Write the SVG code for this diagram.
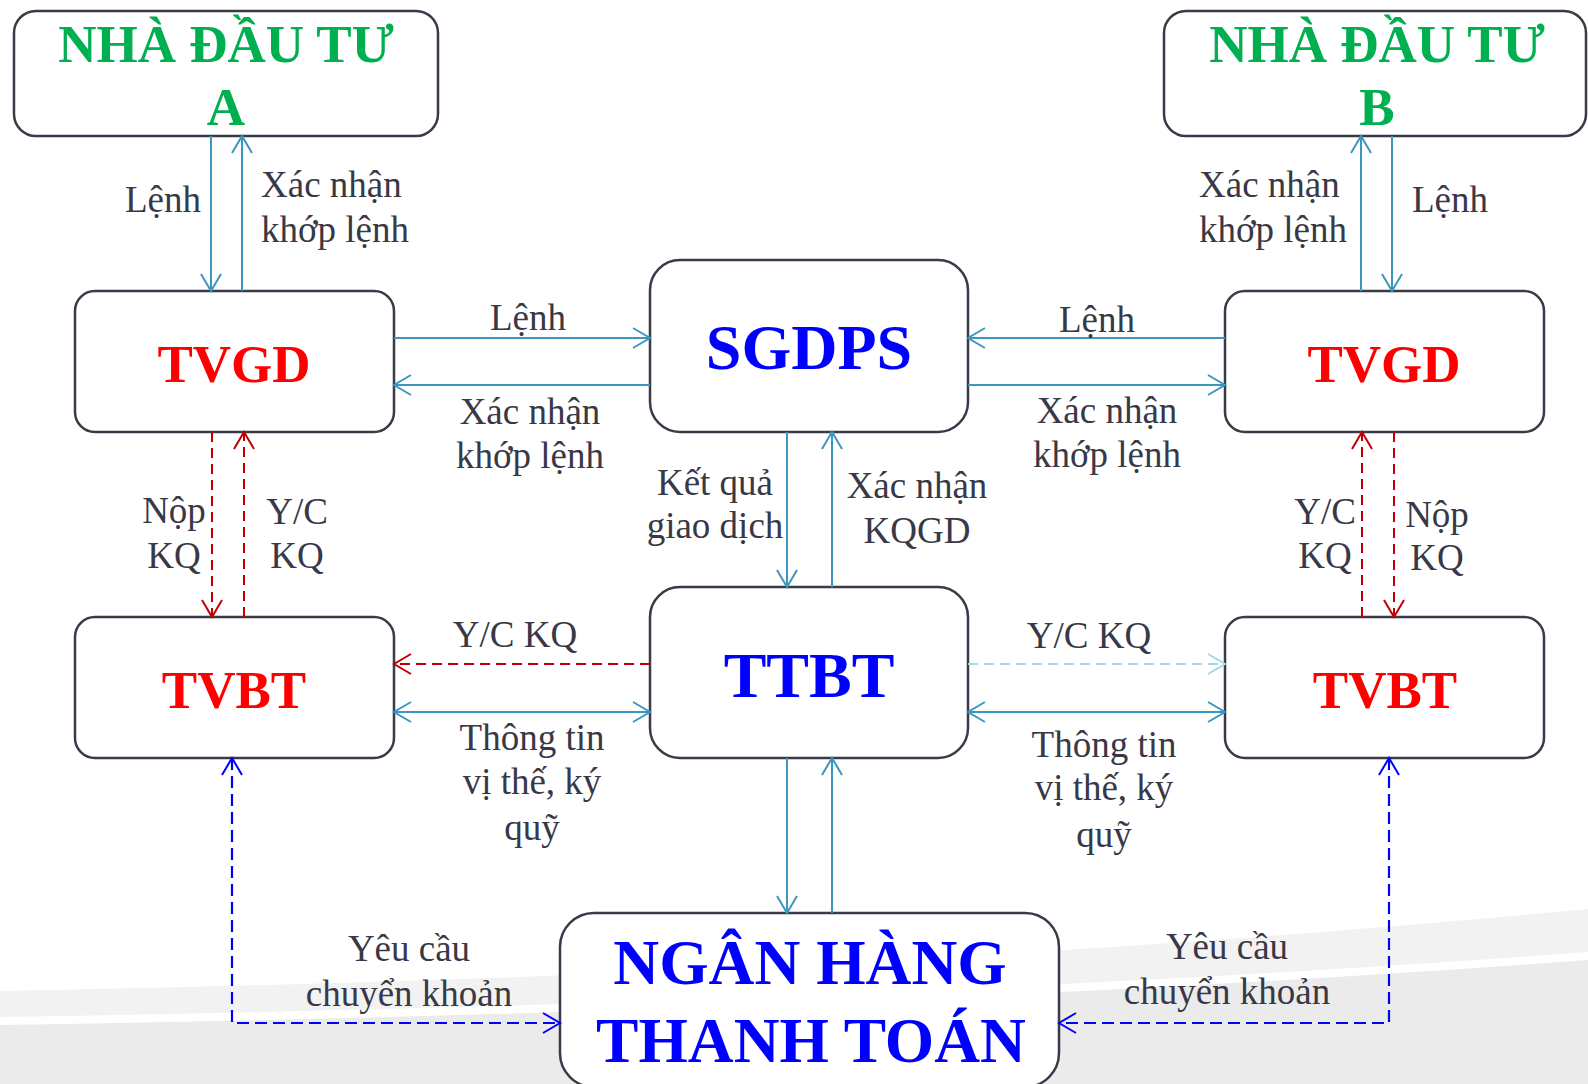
<svg xmlns="http://www.w3.org/2000/svg" width="1588" height="1084" viewBox="0 0 1588 1084">
<style>
.box{fill:#fff;stroke:#3A3A48;stroke-width:2.5}
.lbl{font-family:"Liberation Serif","Times New Roman",serif;font-size:37px;fill:#383846;text-anchor:middle}
.st{text-anchor:start}
.ttl{font-family:"Liberation Serif","Times New Roman",serif;font-weight:bold;text-anchor:middle}
.g{fill:#00B050;font-size:53px}
.r{fill:#FF0000;font-size:53px}
.b{fill:#0000FF;font-size:64px}
.t{fill:none;stroke:#3C97BF;stroke-width:2}
.rd{fill:none;stroke:#C00000;stroke-width:2;stroke-dasharray:10 6}
.lb{fill:none;stroke:#A3D9E2;stroke-width:2;stroke-dasharray:10 6}
.bd{fill:none;stroke:#0000FF;stroke-width:2.2;stroke-dasharray:12 6}
</style>
<defs>
<marker id="mT" markerUnits="userSpaceOnUse" markerWidth="22" markerHeight="24" viewBox="0 -12 22 24" refX="19" refY="0" orient="auto-start-reverse"><path d="M2,-10 L19,0 L2,10" fill="none" stroke="#3C97BF" stroke-width="2"/></marker>
<marker id="mR" markerUnits="userSpaceOnUse" markerWidth="22" markerHeight="24" viewBox="0 -12 22 24" refX="19" refY="0" orient="auto-start-reverse"><path d="M2,-10 L19,0 L2,10" fill="none" stroke="#C00000" stroke-width="2"/></marker>
<marker id="mL" markerUnits="userSpaceOnUse" markerWidth="22" markerHeight="24" viewBox="0 -12 22 24" refX="19" refY="0" orient="auto-start-reverse"><path d="M2,-10 L19,0 L2,10" fill="none" stroke="#A3D9E2" stroke-width="2"/></marker>
<marker id="mB" markerUnits="userSpaceOnUse" markerWidth="22" markerHeight="24" viewBox="0 -12 22 24" refX="19" refY="0" orient="auto-start-reverse"><path d="M2,-10 L19,0 L2,10" fill="none" stroke="#0000FF" stroke-width="2"/></marker>
</defs>
<rect width="1588" height="1084" fill="#fff"/>
<g id="background">
<path d="M0,991 Q900,975 1588,909 L1588,1084 L0,1084 Z" fill="#F2F2F2"/>
<path d="M0,1017 Q900,1003 1588,952 L1588,1084 L0,1084 Z" fill="#fff"/>
<path d="M0,1025 Q900,1011 1588,960 L1588,1084 L0,1084 Z" fill="#EBEBEB"/>
</g>
<g id="nha-dau-tu-a"><rect class="box" x="14" y="11" width="424" height="125" rx="22"/><text class="ttl g" x="226" y="62">NHÀ ĐẦU TƯ</text><text class="ttl g" x="226" y="125">A</text></g>
<g id="nha-dau-tu-b"><rect class="box" x="1164" y="11" width="422" height="125" rx="22"/><text class="ttl g" x="1377" y="62">NHÀ ĐẦU TƯ</text><text class="ttl g" x="1377" y="125">B</text></g>
<g id="tvgd-a"><rect class="box" x="75" y="291" width="319" height="141" rx="20"/><text class="ttl r" x="234" y="382">TVGD</text></g>
<g id="tvgd-b"><rect class="box" x="1225" y="291" width="319" height="141" rx="20"/><text class="ttl r" x="1384" y="382">TVGD</text></g>
<g id="sgdps"><rect class="box" x="650" y="260" width="318" height="172" rx="30"/><text class="ttl b" x="809" y="369">SGDPS</text></g>
<g id="ttbt"><rect class="box" x="650" y="587" width="318" height="171" rx="30"/><text class="ttl b" x="809" y="697">TTBT</text></g>
<g id="tvbt-a"><rect class="box" x="75" y="617" width="319" height="141" rx="20"/><text class="ttl r" x="234" y="708">TVBT</text></g>
<g id="tvbt-b"><rect class="box" x="1225" y="617" width="319" height="141" rx="20"/><text class="ttl r" x="1385" y="708">TVBT</text></g>
<g id="ngan-hang"><rect class="box" x="560" y="913" width="499" height="174" rx="34"/><text class="ttl b" x="810" y="984" style="font-size:63.5px">NGÂN HÀNG</text><text class="ttl b" x="811" y="1062" style="font-size:63.5px">THANH TOÁN</text></g>
<g id="connectors">
<line class="t" x1="211" y1="136" x2="211" y2="291" marker-end="url(#mT)"/>
<line class="t" x1="242" y1="291" x2="242" y2="136" marker-end="url(#mT)"/>
<line class="t" x1="1361" y1="291" x2="1361" y2="136" marker-end="url(#mT)"/>
<line class="t" x1="1392" y1="136" x2="1392" y2="291" marker-end="url(#mT)"/>
<line class="t" x1="394" y1="338" x2="650" y2="338" marker-end="url(#mT)"/>
<line class="t" x1="650" y1="385" x2="394" y2="385" marker-end="url(#mT)"/>
<line class="t" x1="1225" y1="338" x2="968" y2="338" marker-end="url(#mT)"/>
<line class="t" x1="968" y1="385" x2="1225" y2="385" marker-end="url(#mT)"/>
<line class="t" x1="787" y1="432" x2="787" y2="587" marker-end="url(#mT)"/>
<line class="t" x1="832" y1="587" x2="832" y2="432" marker-end="url(#mT)"/>
<line class="rd" x1="212" y1="432" x2="212" y2="617" marker-end="url(#mR)"/>
<line class="rd" x1="244" y1="617" x2="244" y2="432" marker-end="url(#mR)"/>
<line class="rd" x1="1362" y1="617" x2="1362" y2="432" marker-end="url(#mR)"/>
<line class="rd" x1="1394" y1="432" x2="1394" y2="617" marker-end="url(#mR)"/>
<line class="rd" x1="650" y1="664" x2="394" y2="664" marker-end="url(#mR)"/>
<line class="lb" x1="968" y1="664" x2="1225" y2="664" marker-end="url(#mL)"/>
<line class="t" x1="394" y1="712" x2="650" y2="712" marker-start="url(#mT)" marker-end="url(#mT)"/>
<line class="t" x1="968" y1="712" x2="1225" y2="712" marker-start="url(#mT)" marker-end="url(#mT)"/>
<line class="t" x1="787" y1="758" x2="787" y2="913" marker-end="url(#mT)"/>
<line class="t" x1="832" y1="913" x2="832" y2="758" marker-end="url(#mT)"/>
<path class="bd" d="M232,758 L232,1023 L560,1023" marker-start="url(#mB)" marker-end="url(#mB)"/>
<path class="bd" d="M1389,758 L1389,1023 L1059,1023" marker-start="url(#mB)" marker-end="url(#mB)"/>
</g>
<g id="labels">
<text class="lbl" x="163" y="212">Lệnh</text>
<text class="lbl st" x="261" y="197">Xác nhận</text><text class="lbl st" x="261" y="242">khớp lệnh</text>
<text class="lbl st" x="1199" y="197">Xác nhận</text><text class="lbl st" x="1199" y="242">khớp lệnh</text>
<text class="lbl st" x="1412" y="212">Lệnh</text>
<text class="lbl" x="528" y="330">Lệnh</text>
<text class="lbl" x="530" y="424">Xác nhận</text><text class="lbl" x="530" y="468">khớp lệnh</text>
<text class="lbl" x="1097" y="332">Lệnh</text>
<text class="lbl" x="1107" y="423">Xác nhận</text><text class="lbl" x="1107" y="467">khớp lệnh</text>
<text class="lbl" x="715" y="495">Kết quả</text><text class="lbl" x="715" y="538">giao dịch</text>
<text class="lbl" x="917" y="498">Xác nhận</text><text class="lbl" x="917" y="543">KQGD</text>
<text class="lbl" x="174" y="523">Nộp</text><text class="lbl" x="174" y="568">KQ</text>
<text class="lbl" x="297" y="524">Y/C</text><text class="lbl" x="297" y="568">KQ</text>
<text class="lbl" x="1325" y="524">Y/C</text><text class="lbl" x="1325" y="568">KQ</text>
<text class="lbl" x="1437" y="527">Nộp</text><text class="lbl" x="1437" y="570">KQ</text>
<text class="lbl" x="515" y="647">Y/C KQ</text>
<text class="lbl" x="1089" y="648">Y/C KQ</text>
<text class="lbl" x="532" y="750">Thông tin</text><text class="lbl" x="532" y="794">vị thế, ký</text><text class="lbl" x="532" y="840">quỹ</text>
<text class="lbl" x="1104" y="757">Thông tin</text><text class="lbl" x="1104" y="800">vị thế, ký</text><text class="lbl" x="1104" y="847">quỹ</text>
<text class="lbl" x="409" y="961">Yêu cầu</text><text class="lbl" x="409" y="1006">chuyển khoản</text>
<text class="lbl" x="1227" y="959">Yêu cầu</text><text class="lbl" x="1227" y="1004">chuyển khoản</text>
</g>
</svg>
